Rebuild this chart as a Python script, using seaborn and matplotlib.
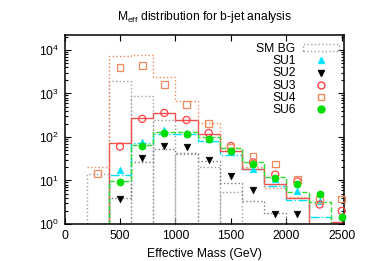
import numpy as np
import matplotlib
matplotlib.use("Agg")
import matplotlib.pyplot as plt
import seaborn as sns
from matplotlib.lines import Line2D
from matplotlib.patches import Patch
from matplotlib.ticker import LogLocator, MultipleLocator, NullFormatter

nan = np.nan

# ---- data ----
edges = [200, 400, 600, 800, 1000, 1200, 1400, 1600, 1800, 2000, 2200, 2400, 2600]
centers = [300, 500, 700, 900, 1100, 1300, 1500, 1700, 1900, 2100, 2300, 2500]

sm_bg = [14, 1900, 850, 250, 40, 20, 5.4, 0, 0, 0, 0, 0]

su1_hist = [0, 13.4, 72, 118, 120, 81, 39, 18, 7.6, 3.6, 1.45, 0]
su1_pts = [nan, 17.5, 78, 141, 125, 92, 44, 18.5, 11, 5.8, 3.4, 1.5]

su2_hist = [0, 3.9, 26, 52, 43, 28, 8.7, 3.3, 1.76, 0, 0, 0]
su2_pts = [nan, 3.7, 33, 63, 58, 29, 13, 6.1, 1.7, 1.7, nan, nan]

su3_hist = [0, 72, 272, 356, 250, 116, 48, 18.3, 8.4, 3.9, 0, 1.13]
su3_pts = [nan, 60, 260, 356, 245, 123, 62, 26, 13.7, 9.5, 2.8, 2.0]

su4_hist = [20, 7100, 7800, 2400, 670, 208, 55, 20, 6.6, 4.2, 0, 0]
su4_pts = [14.7, 4000, 4370, 1600, 545, 200, 58, 35.6, 24, 10.7, 3.6, 3.76]

su6_hist = [0, 9.8, 66, 127, 133, 102, 57, 26, 12.3, 5.3, 3.15, 0]
su6_pts = [nan, 9.1, 63, 123, 116, 88, 47, 23.7, 11.3, 8.4, 4.9, 1.47]

labels = ["SM BG", "SU1", "SU2", "SU3", "SU4", "SU6"]

# ---- style ----
sns.set_theme(style="ticks", rc={
    "axes.edgecolor": "black", "text.color": "black",
    "xtick.color": "black", "ytick.color": "black",
    "axes.labelcolor": "black", "axes.linewidth": 1.0,
})
plt.rcParams["font.family"] = ["Liberation Sans", "DejaVu Sans"]
plt.rcParams["mathtext.fontset"] = "custom"
plt.rcParams["mathtext.rm"] = "Liberation Sans"
plt.rcParams["mathtext.it"] = "Liberation Sans:italic"
plt.rcParams["mathtext.bf"] = "Liberation Sans:bold"

FS = 8.7
c_bg = "#a0a0a0"
c_su1 = "#00e0f0"
c_su2 = "#7a7a7a"
c_su3 = "#f05050"
c_su4 = "#f08a5a"
c_su6 = "#30dd30"

fig = plt.figure(figsize=(3.74, 2.61), dpi=100)
ax = fig.add_axes([0.1725, 0.1418, 0.7473, 0.7241])
ax.set_yscale("log")

# SM background as dotted boxes
sns.histplot(x=centers, weights=sm_bg, bins=edges, element="bars", fill=False,
             color=c_bg, linestyle=":", linewidth=1.0, ax=ax)

# signal histograms as steps
step_specs = [
    (su1_hist, c_su1, "-."),
    (su2_hist, c_su2, ":"),
    (su3_hist, c_su3, "-"),
    (su4_hist, c_su4, ":"),
    (su6_hist, c_su6, "--"),
]
for vals, col, ls in step_specs:
    sns.histplot(x=centers, weights=vals, bins=edges, element="step", fill=False,
                 color=col, linestyle=ls, linewidth=1.0, ax=ax)

# points
pt_kw = dict(legend=False, ax=ax, clip_on=False, zorder=5)
sns.scatterplot(x=centers, y=su1_pts, marker="^", s=22, color="#00e5ff",
                edgecolor="#00e5ff", linewidth=0.5, **pt_kw)
sns.scatterplot(x=centers, y=su2_pts, marker="v", s=22, color="black",
                edgecolor="black", linewidth=0.5, **pt_kw)
sns.scatterplot(x=centers, y=su3_pts, marker="o", s=26, color="#ff4040",
                facecolor="none", edgecolor="#ff4040", linewidth=0.9, **pt_kw)
sns.scatterplot(x=centers, y=su4_pts, marker="s", s=24, color="#f08a5a",
                facecolor="none", edgecolor="#f08a5a", linewidth=0.9, **pt_kw)
sns.scatterplot(x=centers, y=su6_pts, marker="o", s=26, color="#00dd00",
                edgecolor="#00dd00", linewidth=0.5, **pt_kw)

ax.set_xlim(0, 2520)
ax.set_ylim(1, 2.2e4)
ax.xaxis.set_major_locator(MultipleLocator(500))
ax.yaxis.set_major_locator(LogLocator(base=10, numticks=10))
ax.yaxis.set_minor_locator(LogLocator(base=10, subs=np.arange(2, 10), numticks=20))
ax.yaxis.set_minor_formatter(NullFormatter())
ax.tick_params(which="both", direction="in", top=True, right=True, labelsize=FS, width=0.8)
ax.tick_params(which="major", length=4.5, pad=4)
ax.tick_params(which="minor", length=2.5)
for sp in ax.spines.values():
    sp.set_visible(True)
    sp.set_linewidth(1.1)

ax.set_xlabel("Effective Mass (GeV)", fontsize=FS, labelpad=5)
ax.set_ylabel("")

fig.text(0.546, 1 - 17 / 261, r"M$_{\mathrm{eff}}$ distribution for b-jet analysis",
         ha="center", va="center", fontsize=FS)

handles = [
    Patch(facecolor="none", edgecolor=c_bg, linestyle=":", linewidth=1.0),
    Line2D([], [], marker="^", linestyle="none", color="#00e5ff", markersize=4.5),
    Line2D([], [], marker="v", linestyle="none", color="black", markersize=4.5),
    Line2D([], [], marker="o", linestyle="none", markerfacecolor="none",
           markeredgecolor="#ff4040", markersize=5),
    Line2D([], [], marker="s", linestyle="none", markerfacecolor="none",
           markeredgecolor="#f08a5a", markersize=5),
    Line2D([], [], marker="o", linestyle="none", color="#00dd00", markersize=5),
]
ax.legend(handles, labels, loc="upper right", bbox_to_anchor=(0.982, 0.958),
          frameon=False, markerfirst=False, fontsize=FS, handlelength=3.0,
          handleheight=0.5, handletextpad=0.6, labelspacing=0.02,
          borderpad=0, borderaxespad=0)

fig.savefig("out.png", dpi=100)
